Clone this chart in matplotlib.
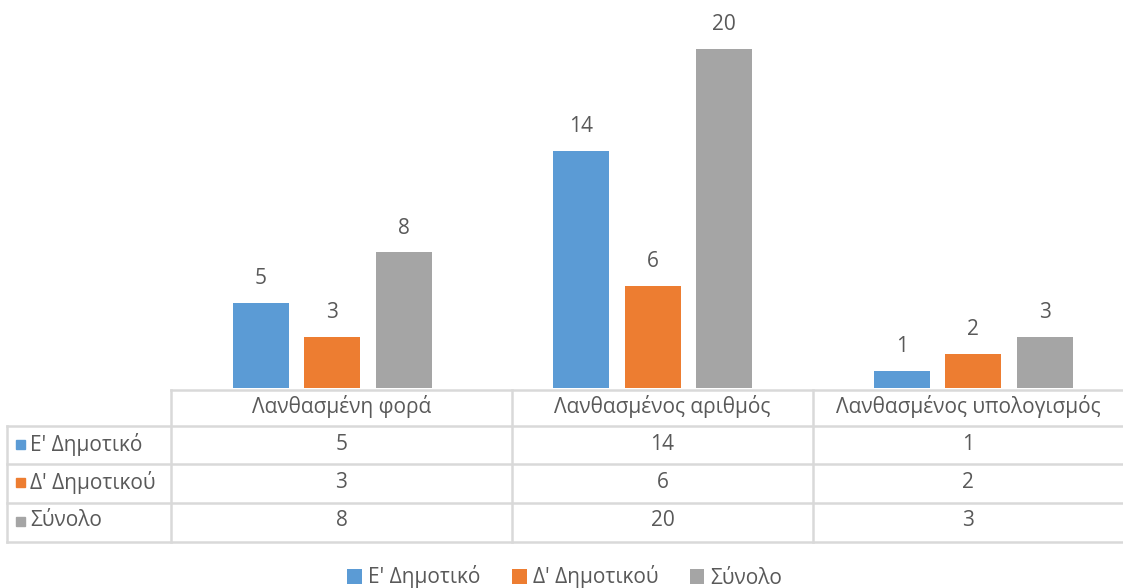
import matplotlib
matplotlib.use("Agg")
import matplotlib.pyplot as plt
from matplotlib.patches import Rectangle
from matplotlib.lines import Line2D

plt.rcParams['font.family'] = ['Open Sans', 'DejaVu Sans']

categories = ["Λανθασμένη φορά", "Λανθασμένος αριθμός", "Λανθασμένος υπολογισμός"]
series_names = ["Ε' Δημοτικό", "Δ' Δημοτικού", "Σύνολο"]
e_dimotiko = [5, 14, 1]
d_dimotikou = [3, 6, 2]
synolo = [8, 20, 3]
colors = ["#5B9BD5", "#ED7D31", "#A5A5A5"]
text_color = "#595959"
grid_color = "#D9D9D9"
fs = 15

W, H = 1123, 588
fig = plt.figure(figsize=(W / 100, H / 100), dpi=100)


def fx(px):
    return px / W


def fy(py):
    return 1 - py / H


# plot area (pixel box) for the bars
left_px, right_px, top_px, base_px = 172, 1123, 10, 388
ax = fig.add_axes([fx(left_px), fy(base_px), fx(right_px - left_px), (base_px - top_px) / H])
cat_w = 320.5
ax.set_xlim(-0.5, -0.5 + (right_px - left_px) / cat_w)
unit_px = (base_px - 49) / 20.0
ax.set_ylim(0, (base_px - top_px) / unit_px)
ax.axis("off")

series = [e_dimotiko, d_dimotikou, synolo]
bar_w = 56 / cat_w
step = 71.5 / cat_w
handles = []
for i, (vals, col, name) in enumerate(zip(series, colors, series_names)):
    xs = [c + (i - 1) * step for c in range(len(categories))]
    bars = ax.bar(xs, vals, width=bar_w, color=col, label=name)
    handles.append(bars)
    for x, v in zip(xs, vals):
        ax.annotate(str(v), (x, v), xytext=(0, 17.5), textcoords="offset points",
                    ha="center", va="center", fontsize=fs, color=text_color)

# data table below the bars
lw = 1.8
col_edges = [171, 512, 813]
row_lines = [390, 426, 464, 503, 542]


def hline(y, x0, x1):
    fig.add_artist(Line2D([fx(x0), fx(x1)], [fy(y), fy(y)], color=grid_color, lw=lw))


def vline(x, y0, y1):
    fig.add_artist(Line2D([fx(x), fx(x)], [fy(y0), fy(y1)], color=grid_color, lw=lw))


hline(row_lines[0], 171, W)
for y in row_lines[1:]:
    hline(y, 7, W)
vline(7, 426, 542)
for x in col_edges:
    vline(x, 390, 542)

col_centers = [(171 + 512) / 2, (512 + 813) / 2, (813 + W) / 2]
header_y = 407
row_ys = [444, 482, 521]
for cx, cat in zip(col_centers, categories):
    fig.text(fx(cx), fy(header_y), cat, ha="center", va="center", fontsize=fs, color=text_color)
for ry, vals, col, name in zip(row_ys, series, colors, series_names):
    fig.add_artist(Rectangle((fx(16), fy(ry + 5)), fx(9), 9 / H, color=col,
                             transform=fig.transFigure))
    fig.text(fx(30), fy(ry), name, ha="left", va="center", fontsize=fs, color=text_color)
    for cx, v in zip(col_centers, vals):
        fig.text(fx(cx), fy(ry), str(v), ha="center", va="center", fontsize=fs, color=text_color)

leg = fig.legend(handles=handles, labels=series_names, loc="center",
                 bbox_to_anchor=(0.503, fy(577)), ncol=3, frameon=False, fontsize=fs,
                 handlelength=0.7, handleheight=0.7, handletextpad=0.3, columnspacing=1.5,
                 labelcolor=text_color)

fig.savefig("out.png", dpi=100)
